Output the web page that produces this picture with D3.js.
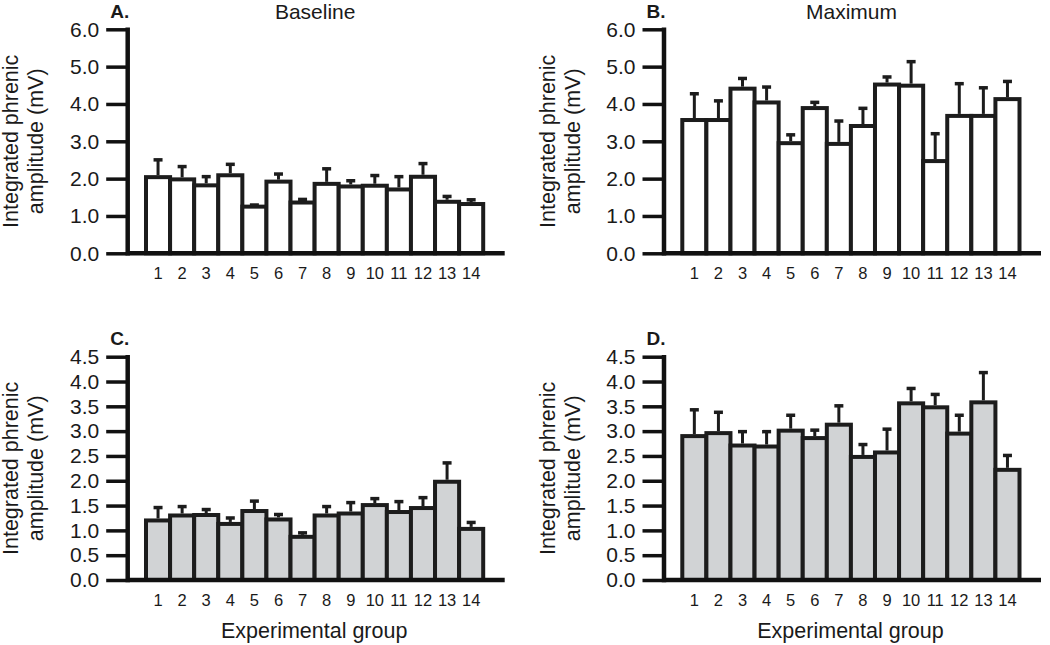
<!DOCTYPE html>
<html>
<head>
<meta charset="utf-8">
<script src="https://cdn.jsdelivr.net/npm/d3@7"></script>
<style>
  html, body { margin: 0; padding: 0; background: #fff; }
  svg { display: block; }
  text { font-family: "Liberation Sans", Arial, Helvetica, sans-serif; fill: #1a1a1a; }
</style>
</head>
<body>
<svg id="chart" width="1050" height="645"></svg>
<script>
// ---- Data ----
const groups = ["1","2","3","4","5","6","7","8","9","10","11","12","13","14"];

const baselineMean = [2.04, 1.98, 1.82, 2.09, 1.25, 1.92, 1.36, 1.86, 1.79, 1.81, 1.71, 2.05, 1.38, 1.32];
const baselineTop  = [2.53, 2.35, 2.08, 2.41, 1.32, 2.15, 1.47, 2.29, 1.97, 2.11, 2.08, 2.43, 1.55, 1.46];

const maximumMean  = [3.57, 3.57, 4.41, 4.04, 2.95, 3.89, 2.93, 3.41, 4.52, 4.49, 2.47, 3.68, 3.68, 4.13];
const maximumTop   = [4.30, 4.11, 4.71, 4.48, 3.20, 4.07, 3.57, 3.91, 4.75, 5.16, 3.23, 4.57, 4.46, 4.63];

const cMean = [1.20, 1.30, 1.31, 1.13, 1.39, 1.22, 0.87, 1.30, 1.34, 1.51, 1.37, 1.45, 1.98, 1.03];
const cTop  = [1.48, 1.50, 1.44, 1.27, 1.61, 1.34, 0.97, 1.50, 1.58, 1.66, 1.60, 1.68, 2.38, 1.18];

const dMean = [2.90, 2.96, 2.71, 2.69, 3.01, 2.86, 3.13, 2.48, 2.57, 3.56, 3.48, 2.95, 3.58, 2.22];
const dTop  = [3.45, 3.40, 3.01, 3.01, 3.34, 3.04, 3.53, 2.75, 3.06, 3.88, 3.76, 3.34, 4.20, 2.53];

const ticksTop    = [0, 1, 2, 3, 4, 5, 6];
const ticksBottom = [0, 0.5, 1, 1.5, 2, 2.5, 3, 3.5, 4, 4.5];

const yTitle1 = "Integrated phrenic";
const yTitle2 = "amplitude (mV)";
const xTitle  = "Experimental group";

// ---- Panels ----
const svg = d3.select("#chart");

const panels = [
  { label: "A.", title: "Baseline", mean: baselineMean, top: baselineTop, ticks: ticksTop, max: 6,
    ax: 127.7, yT: 29.3, yB: 253.3, fill: "#ffffff", xTitle: false },
  { label: "B.", title: "Maximum", mean: maximumMean, top: maximumTop, ticks: ticksTop, max: 6,
    ax: 664, yT: 29.3, yB: 253.3, fill: "#ffffff", xTitle: false },
  { label: "C.", title: null, mean: cMean, top: cTop, ticks: ticksBottom, max: 4.5,
    ax: 127.7, yT: 356.7, yB: 580, fill: "#d1d3d5", xTitle: true },
  { label: "D.", title: null, mean: dMean, top: dTop, ticks: ticksBottom, max: 4.5,
    ax: 664, yT: 356.7, yB: 580, fill: "#d1d3d5", xTitle: true }
];

const ink = "#1c1c1c";

panels.forEach(p => {
  const g = svg.append("g");
  const y = d3.scaleLinear().domain([0, p.max]).range([p.yB, p.yT]);
  const x = d3.scaleBand().domain(groups).range([p.ax + 18.3, p.ax + 355.5]).paddingInner(0).paddingOuter(0);

  // bars
  g.selectAll("rect.bar").data(groups).enter().append("rect")
    .attr("class", "bar")
    .attr("x", d => x(d))
    .attr("width", x.bandwidth())
    .attr("y", (d, i) => y(p.mean[i]))
    .attr("height", (d, i) => y(0) - y(p.mean[i]))
    .attr("fill", p.fill)
    .attr("stroke", ink)
    .attr("stroke-width", 4);

  // error bars
  g.selectAll("line.err").data(groups).enter().append("line")
    .attr("x1", d => x(d) + x.bandwidth() / 2)
    .attr("x2", d => x(d) + x.bandwidth() / 2)
    .attr("y1", (d, i) => y(p.mean[i]) - 2)
    .attr("y2", (d, i) => y(p.top[i]))
    .attr("stroke", ink).attr("stroke-width", 3);
  g.selectAll("line.cap").data(groups).enter().append("line")
    .attr("x1", d => x(d) + x.bandwidth() / 2 - 4.5)
    .attr("x2", d => x(d) + x.bandwidth() / 2 + 4.5)
    .attr("y1", (d, i) => y(p.top[i]) + 1)
    .attr("y2", (d, i) => y(p.top[i]) + 1)
    .attr("stroke", ink).attr("stroke-width", 3.5);

  // x axis line
  g.append("line")
    .attr("x1", p.ax).attr("x2", p.ax + 377)
    .attr("y1", y(0)).attr("y2", y(0))
    .attr("stroke", "#111").attr("stroke-width", 4.5);

  // y axis
  const fmt = d3.format(".1f");
  const yAxis = d3.axisLeft(y).tickValues(p.ticks).tickFormat(fmt)
    .tickSize(21.5).tickSizeOuter(0).tickPadding(7);
  const ya = g.append("g").attr("transform", `translate(${p.ax},0)`).call(yAxis);
  ya.select(".domain").remove();
  ya.selectAll(".tick line").attr("stroke", "#111").attr("stroke-width", 3.5);
  ya.selectAll(".tick text").style("font-size", "21px").attr("fill", "#1a1a1a");
  g.append("line")
    .attr("x1", p.ax).attr("x2", p.ax)
    .attr("y1", y(p.max) - 1.75).attr("y2", y(0) + 2.25)
    .attr("stroke", "#111").attr("stroke-width", 4.5);

  // x tick labels
  const xAxis = d3.axisBottom(x).tickSize(0).tickPadding(14);
  const xa = g.append("g").attr("transform", `translate(0,${y(0)})`).call(xAxis);
  xa.select(".domain").remove();
  xa.selectAll(".tick text").style("font-size", "16.5px").attr("fill", "#1a1a1a");

  // y title
  const cy = (p.yT + p.yB) / 2;
  g.append("text")
    .attr("transform", `translate(${p.ax - 109.4},${cy}) rotate(-90)`)
    .attr("text-anchor", "middle").style("font-size", "21.5px").text(yTitle1);
  g.append("text")
    .attr("transform", `translate(${p.ax - 84.4},${cy}) rotate(-90)`)
    .attr("text-anchor", "middle").style("font-size", "21.5px").text(yTitle2);

  // panel label
  g.append("text")
    .attr("x", p.ax - 17.5).attr("y", p.yT - 11.5)
    .style("font-size", "19px").style("font-weight", "bold").text(p.label);

  // title
  if (p.title) {
    g.append("text")
      .attr("x", p.ax + 187.5).attr("y", p.yT - 10.3)
      .attr("text-anchor", "middle").style("font-size", "21px").text(p.title);
  }
  if (p.xTitle) {
    g.append("text")
      .attr("x", p.ax + 186.5).attr("y", p.yB + 58)
      .attr("text-anchor", "middle").style("font-size", "21.5px").text(xTitle);
  }
});
</script>
</body>
</html>
